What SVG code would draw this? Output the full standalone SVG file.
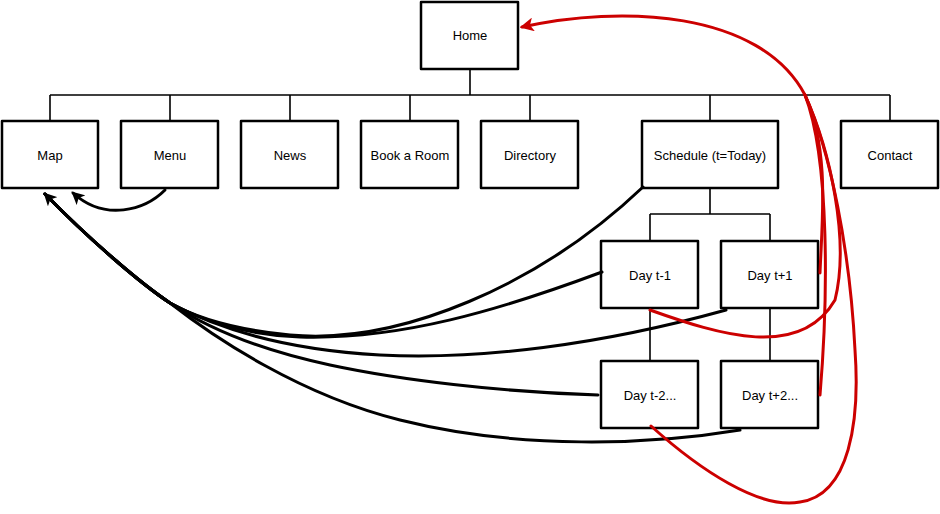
<svg xmlns="http://www.w3.org/2000/svg" width="940" height="514" viewBox="0 0 940 514">
<style>
.box{fill:#fff;stroke:#000;stroke-width:2.5;stroke-linejoin:round}
.lbl{font-family:"Liberation Sans",Arial,sans-serif;font-size:13px;fill:#000;text-anchor:middle;dominant-baseline:central}
.tree{fill:none;stroke:#000;stroke-width:1.6}
.blk{fill:none;stroke:#000;stroke-width:3;stroke-linecap:round}
.red{fill:none;stroke:#cc0000;stroke-width:3;stroke-linecap:round}
</style>
<defs>
<marker id="ab" viewBox="0 0 12 12" refX="10" refY="6" markerWidth="13" markerHeight="13" markerUnits="userSpaceOnUse" orient="auto">
<path d="M0,0 L12,6 L0,12 L3,6 z" fill="#000"/>
</marker>
<marker id="ar" viewBox="0 0 12 12" refX="10" refY="6" markerWidth="14" markerHeight="14" markerUnits="userSpaceOnUse" orient="auto">
<path d="M0,0 L12,6 L0,12 L3,6 z" fill="#cc0000"/>
</marker>
</defs>
<g id="tree-lines">
<path class="tree" d="M470,69 V95 M50,95 H890 M50,95 V121 M170,95 V121 M290,95 V121 M410,95 V121 M530,95 V121 M710,95 V121 M890,95 V121"/>
<path class="tree" d="M710,188 V214 M650,214 H770 M650,214 V241 M770,214 V241 M650,308 V361 M770,308 V361"/>
</g>
<g id="home"><rect class="box" x="421" y="2" width="97" height="67"/><text class="lbl" x="470" y="35">Home</text></g>
<g id="map"><rect class="box" x="2" y="121" width="96" height="67"/><text class="lbl" x="50" y="155">Map</text></g>
<g id="menu"><rect class="box" x="121" y="121" width="97" height="67"/><text class="lbl" x="170" y="155">Menu</text></g>
<g id="news"><rect class="box" x="241" y="121" width="97" height="67"/><text class="lbl" x="290" y="155">News</text></g>
<g id="book"><rect class="box" x="361" y="121" width="97" height="67"/><text class="lbl" x="410" y="155">Book a Room</text></g>
<g id="directory"><rect class="box" x="481" y="121" width="97" height="67"/><text class="lbl" x="530" y="155">Directory</text></g>
<g id="schedule"><rect class="box" x="642" y="121" width="136" height="67"/><text class="lbl" x="710" y="155">Schedule (t=Today)</text></g>
<g id="contact"><rect class="box" x="841" y="121" width="97" height="67"/><text class="lbl" x="890" y="155">Contact</text></g>
<g id="day-m1"><rect class="box" x="601" y="241" width="97" height="67"/><text class="lbl" x="650" y="275">Day t-1</text></g>
<g id="day-p1"><rect class="box" x="721" y="241" width="97" height="67"/><text class="lbl" x="770" y="275">Day t+1</text></g>
<g id="day-m2"><rect class="box" x="601" y="361" width="97" height="67"/><text class="lbl" x="650" y="395">Day t-2...</text></g>
<g id="day-p2"><rect class="box" x="721" y="361" width="97" height="67"/><text class="lbl" x="770" y="395">Day t+2...</text></g>
<g id="connectors">
<path class="blk" marker-end="url(#ab)" d="M165,190 C145,210 105,222 73,193"/>
<path class="blk" marker-end="url(#ab)" d="M643,187 C540,285 400,345 290,335 C240,330 200,320 170,303 C140,283 90,240 45,194"/>
<path class="blk" d="M602,272 C500,310 400,340 300,337 C245,335 200,320 170,303 C140,283 90,240 45,194"/>
<path class="blk" d="M726,310 C600,345 480,360 380,355 C290,350 220,330 170,303 C140,283 90,240 45,194"/>
<path class="blk" d="M598,395 C500,392 400,380 330,365 C260,350 210,330 170,303 C140,283 90,240 45,194"/>
<path class="blk" d="M740,430 C650,445 520,450 400,420 C300,395 215,338 170,303 C140,283 90,240 45,194"/>
<path class="red" marker-end="url(#ar)" d="M820,273 C822,220 830,150 805,95 C760,10 620,5 522,27"/>
<path class="red" d="M820,395 C828,300 830,160 805,95"/>
<path class="red" d="M650,310 C720,335 800,360 835,300 C850,240 830,150 805,95"/>
<path class="red" d="M651,426 C700,470 760,510 800,502 C850,495 860,420 855,350 C850,250 830,150 805,95"/>
</g>
</svg>
